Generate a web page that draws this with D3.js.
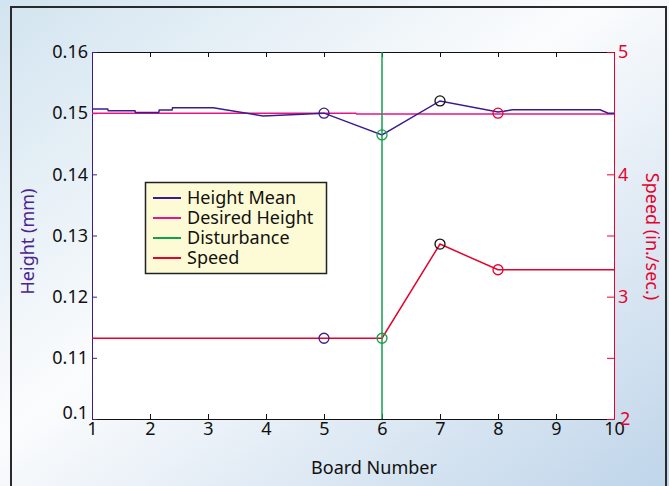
<!DOCTYPE html>
<html>
<head>
<meta charset="utf-8">
<script src="https://cdn.jsdelivr.net/npm/d3@7"></script>
<style>
    body { margin: 0; }
    svg { display: block; font-family: "Noto Sans", sans-serif; }
</style>
</head>
<body>
<div id="chart"></div>
<script>
// Données
const boardTicks = [1, 2, 3, 4, 5, 6, 7, 8, 9, 10];
const heightTicks = [0.1, 0.11, 0.12, 0.13, 0.14, 0.15, 0.16];
const speedTicks = [2, 2.5, 3, 3.5, 4, 4.5, 5];

const heightMeanX = [1, 1.27, 1.28, 1.74, 1.75, 2.15, 2.16, 2.38, 2.39, 3.09, 3.95, 5, 6, 7, 8, 8.1, 8.25, 9.76, 9.9, 10];
const heightMeanY = [0.1507, 0.1507, 0.1504, 0.1504, 0.1501, 0.1501, 0.1505, 0.1505, 0.1509, 0.1509, 0.14955, 0.1500, 0.14645, 0.1520, 0.1502, 0.1503, 0.15055, 0.15055, 0.1500, 0.1500];

const desiredX = [1, 5.55, 5.56, 10];
const desiredY = [0.1500, 0.1500, 0.14985, 0.14985];

const disturbanceBoard = 6;

const speedX = [1, 6, 7, 8, 10];
const speedY = [2.66, 2.66, 3.43, 3.22, 3.22];

// Cercles marquant les événements
const eventBoards = [5, 6, 7, 8];
const eventHeights = [0.1500, 0.14645, 0.1520, 0.1500];
const eventSpeeds = [2.66, 2.66, 3.43, 3.22];
const eventColors = ['#3c1c8c', '#12a04a', '#111111', '#e4032e'];

const legendLabels = ['Height Mean', 'Desired Height', 'Disturbance', 'Speed'];
const legendColors = ['#3c1c8c', '#e6168a', '#12a04a', '#e4032e'];

document.addEventListener('DOMContentLoaded', function() {
    renderChart();
});

function renderChart() {
    const width = 669, height = 486;
    const left = 92, right = 614, top = 52, bottom = 419;

    const svg = d3.select('#chart')
        .append('svg')
        .attr('width', width)
        .attr('height', height);

    // Fond dégradé
    const grad = svg.append('defs').append('linearGradient')
        .attr('id', 'bg')
        .attr('x1', 0).attr('y1', 0).attr('x2', 1).attr('y2', 1);
    grad.append('stop').attr('offset', '0%').attr('stop-color', '#d2e4f0');
    grad.append('stop').attr('offset', '45%').attr('stop-color', '#fbfcfd');
    grad.append('stop').attr('offset', '100%').attr('stop-color', '#bfd5ea');

    svg.append('rect')
        .attr('width', width).attr('height', height)
        .attr('fill', 'url(#bg)');

    // Cadre
    svg.append('path')
        .attr('d', `M11,${height + 5}V7H666V${height + 5}`)
        .attr('fill', 'none')
        .attr('stroke', '#2a2a2a')
        .attr('stroke-width', 2);

    // Zone du graphe
    svg.append('rect')
        .attr('x', left).attr('y', top)
        .attr('width', right - left).attr('height', bottom - top)
        .attr('fill', '#fff');

    // Échelles
    const x = d3.scaleLinear().domain([1, 10]).range([left, right]);
    const yH = d3.scaleLinear().domain([0.1, 0.16]).range([bottom, top]);
    const yS = d3.scaleLinear().domain([2, 5]).range([bottom, top]);

    // Axes haut et bas (noirs, graduations vers l'intérieur)
    svg.append('g')
        .attr('transform', `translate(0,${top})`)
        .call(d3.axisTop(x).tickValues(boardTicks).tickSizeInner(-5).tickSizeOuter(0).tickFormat(''))
        .call(g => g.selectAll('path, line').attr('stroke', '#111'));

    const xAxis = svg.append('g')
        .attr('transform', `translate(0,${bottom})`)
        .call(d3.axisBottom(x).tickValues(boardTicks).tickSizeInner(-5).tickSizeOuter(0).tickPadding(3))
        .call(g => g.selectAll('path, line').attr('stroke', '#111'));
    xAxis.selectAll('text')
        .attr('font-size', 18)
        .attr('font-family', '"Noto Sans", sans-serif')
        .attr('fill', '#111');

    // Axe gauche (hauteur)
    const yAxisL = svg.append('g')
        .attr('transform', `translate(${left},0)`)
        .call(d3.axisLeft(yH).tickValues(heightTicks).tickSizeInner(-5).tickSizeOuter(0).tickPadding(4)
            .tickFormat(d => String(+d.toFixed(2))))
        .call(g => g.selectAll('path, line').attr('stroke', '#3c1c8c'));
    yAxisL.selectAll('text')
        .attr('font-size', 18)
        .attr('font-family', '"Noto Sans", sans-serif')
        .attr('fill', '#111')
        .attr('dy', d => d === 0.1 ? '-0.02em' : '0.32em');

    // Axe droit (vitesse)
    const yAxisR = svg.append('g')
        .attr('transform', `translate(${right},0)`)
        .call(d3.axisRight(yS).tickValues(speedTicks).tickSizeInner(-7).tickSizeOuter(0).tickPadding(4)
            .tickFormat(d => Number.isInteger(d) ? d : ''))
        .call(g => g.selectAll('path, line').attr('stroke', '#e4032e'));
    yAxisR.selectAll('text')
        .attr('font-size', 18)
        .attr('font-family', '"Noto Sans", sans-serif')
        .attr('fill', '#e4032e')
        .attr('dx', d => d === 2 ? 2 : 0);

    // Courbes
    const lineH = d3.line().x(d => x(d[0])).y(d => yH(d[1]));
    const lineS = d3.line().x(d => x(d[0])).y(d => yS(d[1]));

    svg.append('path')
        .datum(desiredX.map((v, i) => [v, desiredY[i]]))
        .attr('d', lineH)
        .attr('fill', 'none')
        .attr('stroke', '#e6168a')
        .attr('stroke-width', 1.5);

    svg.append('path')
        .datum(heightMeanX.map((v, i) => [v, heightMeanY[i]]))
        .attr('d', lineH)
        .attr('fill', 'none')
        .attr('stroke', '#3c1c8c')
        .attr('stroke-width', 1.5);

    svg.append('path')
        .datum(speedX.map((v, i) => [v, speedY[i]]))
        .attr('d', lineS)
        .attr('fill', 'none')
        .attr('stroke', '#e4032e')
        .attr('stroke-width', 1.5);

    // Perturbation (ligne verticale)
    svg.append('line')
        .attr('x1', x(disturbanceBoard)).attr('x2', x(disturbanceBoard))
        .attr('y1', yH(0.1)).attr('y2', yH(0.16))
        .attr('stroke', '#12a04a')
        .attr('stroke-width', 1.5);

    // Marqueurs
    const markers = svg.append('g');
    eventBoards.forEach((b, i) => {
        markers.append('circle')
            .attr('cx', x(b)).attr('cy', yH(eventHeights[i]))
            .attr('r', 5).attr('fill', 'none')
            .attr('stroke', eventColors[i]).attr('stroke-width', 1.3);
        markers.append('circle')
            .attr('cx', x(b)).attr('cy', yS(eventSpeeds[i]))
            .attr('r', 5).attr('fill', 'none')
            .attr('stroke', eventColors[i]).attr('stroke-width', 1.3);
    });

    // Titres des axes
    svg.append('text')
        .attr('transform', `translate(34,${(top + bottom) / 2 + 6}) rotate(-90)`)
        .attr('text-anchor', 'middle')
        .attr('font-size', 18)
        .attr('fill', '#4a2590')
        .text('Height (mm)');

    svg.append('text')
        .attr('transform', `translate(646,${(top + bottom) / 2 + 1}) rotate(90)`)
        .attr('text-anchor', 'middle')
        .attr('font-size', 18)
        .attr('fill', '#e4032e')
        .text('Speed (in./sec.)');

    svg.append('text')
        .attr('x', (left + right) / 2 + 21)
        .attr('y', 474)
        .attr('text-anchor', 'middle')
        .attr('font-size', 18)
        .attr('fill', '#111')
        .text('Board Number');

    // Légende
    const legend = svg.append('g');
    legend.append('rect')
        .attr('x', 145.5).attr('y', 182.5)
        .attr('width', 181).attr('height', 91)
        .attr('fill', '#fdfbd6')
        .attr('stroke', '#222')
        .attr('stroke-width', 1.5);

    legendLabels.forEach((label, i) => {
        const cy = 198 + i * 20;
        legend.append('line')
            .attr('x1', 153).attr('x2', 181)
            .attr('y1', cy).attr('y2', cy)
            .attr('stroke', legendColors[i])
            .attr('stroke-width', 2);
        legend.append('text')
            .attr('x', 187).attr('y', cy + 6)
            .attr('font-size', 18)
            .attr('fill', '#111')
            .text(label);
    });
}
</script>
</body>
</html>
